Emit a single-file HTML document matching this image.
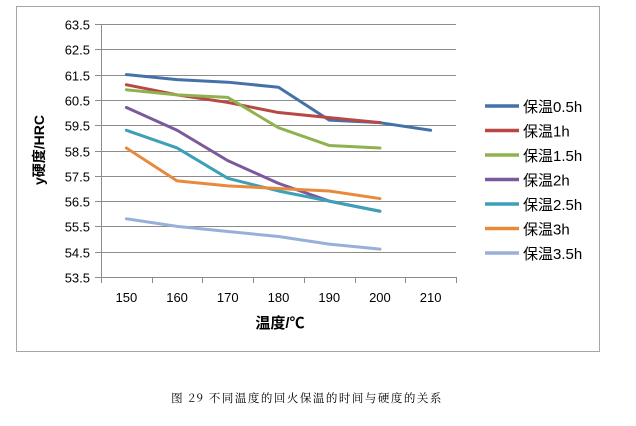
<!DOCTYPE html>
<html><head><meta charset="utf-8"><style>
body{margin:0;background:#fff;width:636px;height:421px;overflow:hidden;font-family:"Liberation Sans","Noto Sans CJK SC",sans-serif}
svg text{font-family:"Liberation Sans","Noto Sans CJK SC",sans-serif}
</style></head><body>
<svg id="chart" width="636" height="421" xmlns="http://www.w3.org/2000/svg">
<rect x="16.5" y="6.5" width="583" height="345" fill="#fff" stroke="#a6a6a6"/>
<g id="grid"></g><g id="axes"></g><g id="series"></g><g id="legend"></g>
<text transform="translate(44,150) rotate(-90)" text-anchor="middle" font-size="14" font-weight="bold" fill="#000">y硬度/HRC</text>
<text x="280" y="328" text-anchor="middle" font-size="15" font-weight="bold" fill="#000">温度/℃</text>
<text x="307" y="402" text-anchor="middle" font-size="11.5" letter-spacing="1.5" fill="#000" style="font-family:'Noto Serif CJK SC','Liberation Serif',serif">图 29 不同温度的回火保温的时间与硬度的关系</text>
</svg>
<script>
const categories=[150,160,170,180,190,200,210];
const yTicks=[53.5,54.5,55.5,56.5,57.5,58.5,59.5,60.5,61.5,62.5,63.5];
const seriesNames=["保温0.5h","保温1h","保温1.5h","保温2h","保温2.5h","保温3h","保温3.5h"];
const colors=["#4472a8","#b94743","#8fb24f","#7a5a9c","#3ba0b8","#e88a3c","#98b0d8"];
const s05=[61.5,61.3,61.2,61.0,59.7,59.6,59.3];
const s1=[61.1,60.7,60.4,60.0,59.8,59.6];
const s15=[60.9,60.7,60.6,59.4,58.7,58.6];
const s2=[60.2,59.3,58.1,57.2,56.5,56.1];
const s25=[59.3,58.6,57.4,56.9,56.5,56.1];
const s3=[58.6,57.3,57.1,57.0,56.9,56.6];
const s35=[55.8,55.5,55.3,55.1,54.8,54.6];
const seriesData=[s05,s1,s15,s2,s25,s3,s35];
const NS="http://www.w3.org/2000/svg";
const plotLeft=101,plotRight=456,plotTop=24,plotBottom=277,yMin=53.5,yMax=63.5;
const band=(plotRight-plotLeft)/categories.length;
const xPos=i=>plotLeft+band*(i+0.5);
const yPos=v=>plotBottom-(v-yMin)/(yMax-yMin)*(plotBottom-plotTop);
function mk(tag,attrs,parent){const e=document.createElementNS(NS,tag);for(const k in attrs)e.setAttribute(k,attrs[k]);parent.appendChild(e);return e;}
const gridG=document.getElementById('grid'),axesG=document.getElementById('axes'),serG=document.getElementById('series'),legG=document.getElementById('legend');
yTicks.forEach(t=>{const y=Math.round(yPos(t))+0.5;
 const l=mk('line',{x1:plotLeft-6,x2:plotRight,y1:y,y2:y,stroke:'#8c8c8c','stroke-width':1},gridG);
 
 
 const tx=mk('text',{x:90,y:y+5,'text-anchor':'end','font-size':13,fill:'#000'},axesG);
 tx.textContent=t.toFixed(1);
 
 
});
const ax=mk('line',{x1:plotLeft+0.5,x2:plotLeft+0.5,y1:plotTop,y2:plotBottom,stroke:'#8c8c8c'},axesG);


for(let i=0;i<=categories.length;i++){const x=Math.round(plotLeft+band*i)+0.5;
 const t=mk('line',{x1:x,x2:x,y1:plotBottom,y2:plotBottom+6,stroke:'#8c8c8c'},axesG);
 
 }
categories.forEach((c,i)=>{const tx=mk('text',{x:xPos(i),y:302,'text-anchor':'middle','font-size':13,fill:'#000'},axesG);
 tx.textContent=c;
 
 });
seriesData.forEach((d,si)=>{
 const p=mk('polyline',{points:d.map((v,i)=>xPos(i)+','+yPos(v)).join(' '),fill:'none',stroke:colors[si],'stroke-width':3,'stroke-linejoin':'round','stroke-linecap':'round'},serG);
 
 
 const ly=106+si*24.5;
 const g=mk('g',{},legG);
 
 
 mk('line',{x1:485,x2:519,y1:ly,y2:ly,stroke:colors[si],'stroke-width':3.5},g);
 const tx=mk('text',{x:523,y:ly+6,'font-size':15,fill:'#000'},g);
 tx.textContent=seriesNames[si];
});
</script>
</body></html>
